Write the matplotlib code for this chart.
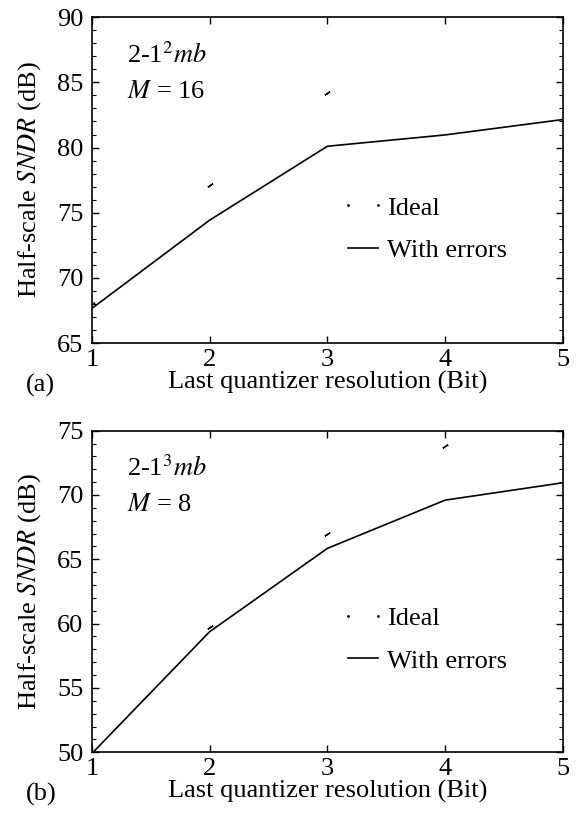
import numpy as np
import matplotlib.pyplot as plt

plt.rcParams['font.family'] = ['Liberation Serif', 'DejaVu Serif']
plt.rcParams['mathtext.fontset'] = 'stix'

bits = [1, 2, 3, 4, 5]

# (a) 2-1^2 mb, M = 16
ideal_a = [68.0, 77.1, 84.15, 91.5, 93.0]
err_a = [67.66, 74.43, 80.1, 80.97, 82.15]

# (b) 2-1^3 mb, M = 8
ideal_b = [50.0, 59.76, 66.96, 73.84, 75.6]
err_b = [49.9, 59.37, 65.85, 69.6, 70.95]

fig = plt.figure(figsize=(5.81, 8.17), dpi=100)
ax1 = fig.add_axes([0.158, 0.580, 0.811, 0.399])
ax2 = fig.add_axes([0.158, 0.0792, 0.811, 0.3937])

fs = 19
panels = [
    (ax1, ideal_a, err_a, (65, 90), '2-1$^{2}$$mb$', '$M$ = 16', '(a)', -55),
    (ax2, ideal_b, err_b, (50, 75), '2-1$^{3}$$mb$', '$M$ = 8', '(b)', -58),
]

for ax, ideal, err, ylim, name, mtxt, tag, ang in panels:
    # only short fragments of the ideal curve are visible in the original
    ax.plot(bits, ideal, linestyle='none', marker=(2, 2, ang), markersize=4.5,
            markeredgewidth=1.0, color='black', label='Ideal')
    ax.plot(bits, err, '-', color='black', linewidth=1.2, label='With errors')
    ax.set_xlim(1, 5)
    ax.set_ylim(*ylim)
    ax.set_xticks(bits)
    ax.set_yticks(np.arange(ylim[0], ylim[1] + 1, 5))
    ax.set_yticks(np.arange(ylim[0], ylim[1] + 1, 1), minor=True)
    ax.tick_params(which='both', direction='in', top=True, right=True, labelsize=fs)
    ax.tick_params(axis='x', pad=4)
    ax.tick_params(axis='y', pad=6)
    ax.tick_params(which='major', length=5, width=1)
    ax.tick_params(which='minor', length=3, width=0.8)
    for s in ax.spines.values():
        s.set_linewidth(1.2)
    ax.set_xlabel('Last quantizer resolution (Bit)', fontsize=fs, labelpad=0)
    ax.set_ylabel('Half-scale $SNDR$ (dB)', fontsize=fs, labelpad=10.5)
    ax.text(0.074, 0.885, name, transform=ax.transAxes, fontsize=fs, va='center')
    ax.text(0.074, 0.77, mtxt, transform=ax.transAxes, fontsize=fs, va='center')
    ax.text(-0.14, -0.13, tag, transform=ax.transAxes, fontsize=fs, va='center')
    leg = ax.legend(loc='center left', bbox_to_anchor=(0.5265, 0.35), frameon=False,
                    fontsize=fs, numpoints=2, handlelength=1.74, handletextpad=0.05,
                    labelspacing=0.72, borderpad=0, borderaxespad=0)
    h = leg.legend_handles[0]
    h.set_marker('.')
    h.set_markersize(2)

fig.savefig('out.png', dpi=100)
